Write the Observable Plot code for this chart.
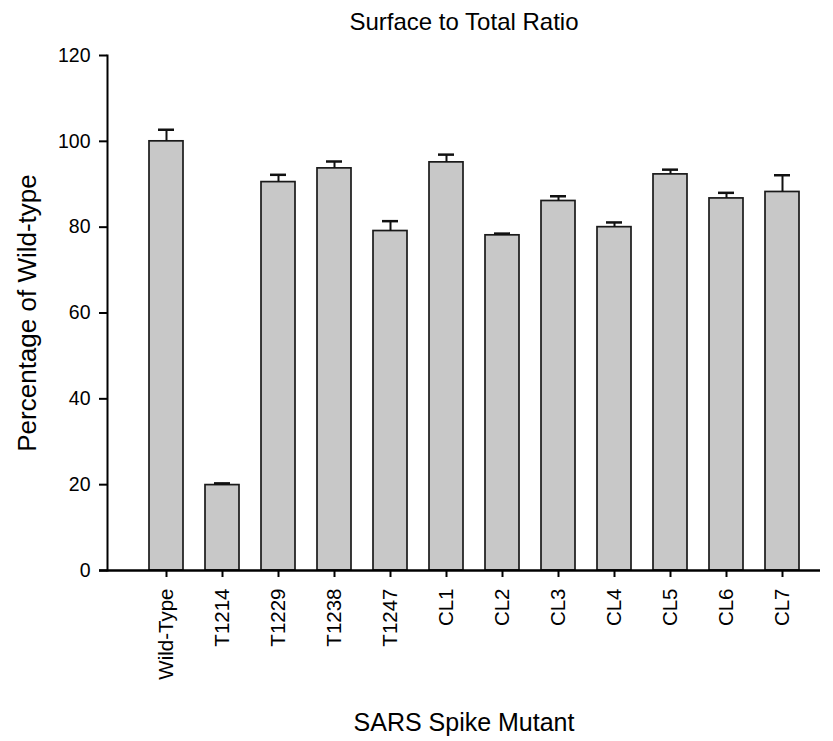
<!DOCTYPE html>
<html>
<head>
<meta charset="utf-8">
<script src="https://cdn.jsdelivr.net/npm/d3@7"></script>
<script src="https://cdn.jsdelivr.net/npm/@observablehq/plot@0.6"></script>
<style>
  html, body { margin: 0; padding: 0; background: #fff; }
  #chart svg { display: block; }
</style>
</head>
<body>
<div id="chart"></div>
<script>
const mutants = ["Wild-Type", "T1214", "T1229", "T1238", "T1247", "CL1", "CL2", "CL3", "CL4", "CL5", "CL6", "CL7"];
const percentages = [100.0, 19.9, 90.5, 93.7, 79.1, 95.1, 78.1, 86.1, 80.0, 92.3, 86.7, 88.2];
const errors = [2.7, 0.4, 1.7, 1.6, 2.3, 1.8, 0.4, 1.1, 1.1, 1.1, 1.3, 3.9];
const yTicks = [0, 20, 40, 60, 80, 100, 120];
const titleText = "Surface to Total Ratio";
const xLabel = "SARS Spike Mutant";
const yLabel = "Percentage of Wild-type";

const data = mutants.map((m, i) => ({name: m, value: percentages[i], err: errors[i]}));
const font = "Liberation Sans, Arial, Helvetica, sans-serif";

const chart = Plot.plot({
  width: 833,
  height: 741,
  marginLeft: 107,
  marginRight: 13,
  marginTop: 55,
  marginBottom: 171,
  style: {fontFamily: font, color: "#000", background: "#fff"},
  x: {type: "band", domain: mutants, range: [134.4, 812.3], paddingInner: 0.4, paddingOuter: 0.2},
  y: {domain: [0, 120]},
  marks: [
    Plot.barY(data, {x: "name", y: "value", fill: "#c8c8c8", stroke: "#1a1a1a", strokeWidth: 1.7}),
    Plot.ruleX(data, {x: "name", y1: "value", y2: d => d.value + d.err, stroke: "#111", strokeWidth: 2}),
    Plot.tickY(data, {x: "name", y: d => d.value + d.err, stroke: "#111", strokeWidth: 2.5, insetLeft: 9, insetRight: 9}),
    Plot.frame({anchor: "left", stroke: "#000", strokeWidth: 2}),
    Plot.ruleY([0], {stroke: "#000", strokeWidth: 2.5, insetLeft: -8}),
    Plot.axisY({ticks: yTicks, tickSize: 8, tickPadding: 9, fontSize: 19.5, label: null, strokeWidth: 2}),
    Plot.axisX({tickSize: 7, tickRotate: -90, tickPadding: 11, fontSize: 20.5, label: null, strokeWidth: 2}),
    Plot.text([titleText], {frameAnchor: "top", lineAnchor: "middle", dy: -33, fontSize: 24, fill: "#000"}),
    Plot.text([xLabel], {frameAnchor: "bottom", lineAnchor: "middle", dy: 152, fontSize: 25, fill: "#000"}),
    Plot.text([yLabel], {frameAnchor: "left", textAnchor: "middle", lineAnchor: "middle", dx: -80, rotate: -90, fontSize: 26, fill: "#000"})
  ]
});
document.getElementById("chart").appendChild(chart);
</script>
</body>
</html>
